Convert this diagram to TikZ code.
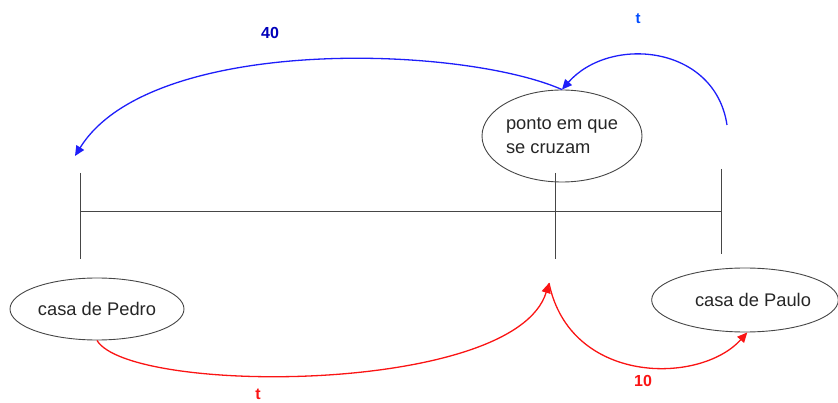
\documentclass[tikz,border=0pt]{standalone}
\usepackage{fontspec}
\setmainfont{Liberation Sans}
\usetikzlibrary{arrows.meta,shapes.geometric}
\definecolor{lblue}{RGB}{30,30,250}
\definecolor{lred}{RGB}{250,20,20}
\definecolor{gline}{RGB}{70,70,70}
\begin{document}
\begin{tikzpicture}[x=1pt,y=-1pt,
  place/.style={ellipse,draw=gline,line width=0.9pt,inner sep=0pt,font=\fontsize{18.3}{24}\selectfont,text=black!85},
  axis/.style={draw=gline,line width=0.9pt},
  bluearc/.style={draw=lblue,line width=1.3pt,-{Triangle[length=10pt,width=9pt]}},
  redarc/.style={draw=lred,line width=1.3pt,-{Triangle[length=10pt,width=9pt]}},
  blab/.style={font=\fontsize{16}{18}\selectfont\bfseries},
  rlab/.style={font=\fontsize{16}{18}\selectfont\bfseries,text=lred}]
\useasboundingbox (0,0) rectangle (838,403);
% nodes
\node[place,minimum width=160,minimum height=92,align=left] (cruz) at (562,136) {ponto em que\\se cruzam};
\node[place,minimum width=174,minimum height=62] (pedro) at (97,309) {casa de Pedro};
\node[place,minimum width=184,minimum height=64] (paulo) at (745,300) {\hspace{16pt}casa de Paulo};
% axis coordinates
\coordinate (la) at (80,173);
\coordinate (lb) at (80,259);
\coordinate (ma) at (555,173);
\coordinate (mb) at (555,259);
\coordinate (ra) at (721,169);
\coordinate (rb) at (721,254);
\coordinate (lh) at (80,211);
\coordinate (rh) at (721,211);
\path[axis] (la) -- (lb);
\path[axis] (ma) -- (mb);
\path[axis] (ra) -- (rb);
\path[axis] (lh) -- (rh);
% blue arcs
\coordinate (bstart) at (727,125);
\coordinate (bend) at (75,156);
\path[bluearc] (bstart) .. controls (715,45) and (610,35) .. (cruz.north);
\path[bluearc] (cruz.north) .. controls (460,45) and (150,35) .. (bend);
% red arcs
\coordinate (meet) at (549,283);
\path[redarc] (pedro.south) .. controls (130,395) and (515,395) .. (meet);
\path[redarc] (meet) .. controls (570,385) and (700,385) .. (paulo.-86);
% labels
\node[blab,text=blue!55!black!60!blue] (l40) at (270,33) {40};
\node[blab,text=blue!70!cyan,font=\fontsize{15}{18}\selectfont\bfseries] (lt1) at (638,19) {t};
\node[rlab] (lt2) at (258,394) {t};
\node[rlab] (l10) at (643,381) {10};
\end{tikzpicture}
\end{document}
